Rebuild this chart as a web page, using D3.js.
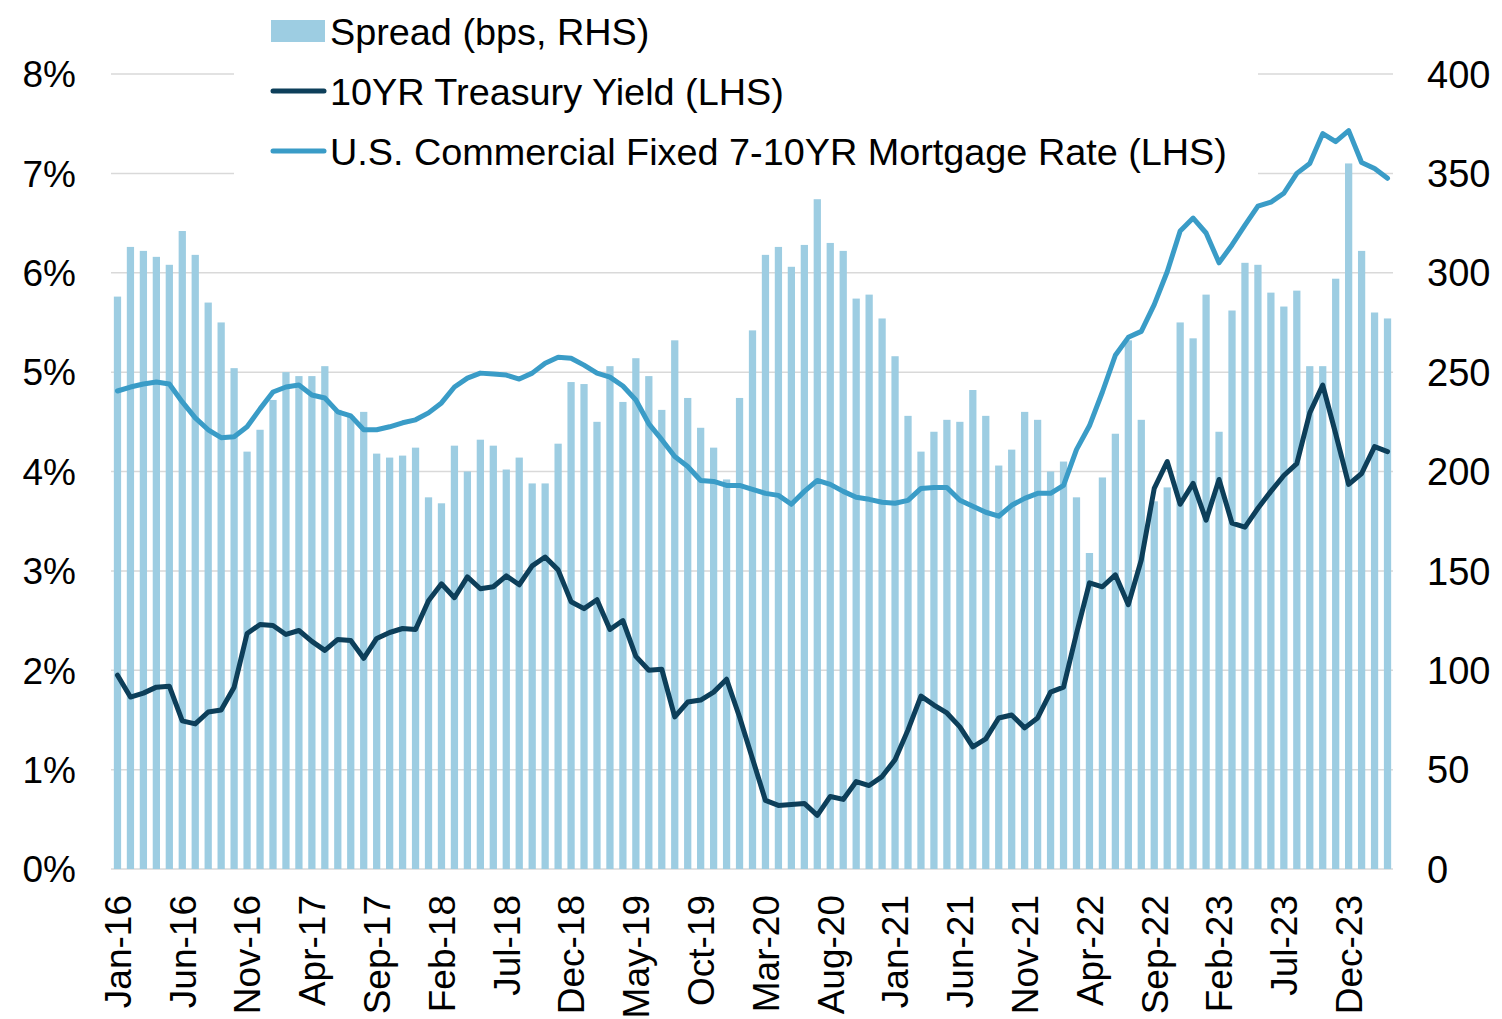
<!DOCTYPE html>
<html>
<head>
<meta charset="utf-8">
<script src="https://cdn.jsdelivr.net/npm/d3@7"></script>
<style>
  html, body { margin: 0; padding: 0; background: #fff; }
  svg { display: block; font-family: "Liberation Sans", Arial, sans-serif; }
</style>
</head>
<body>
<svg id="chart" width="1502" height="1019"></svg>
<script>
const months = [
  "Jan-16","Feb-16","Mar-16","Apr-16","May-16","Jun-16","Jul-16","Aug-16","Sep-16","Oct-16","Nov-16","Dec-16",
  "Jan-17","Feb-17","Mar-17","Apr-17","May-17","Jun-17","Jul-17","Aug-17","Sep-17","Oct-17","Nov-17","Dec-17",
  "Jan-18","Feb-18","Mar-18","Apr-18","May-18","Jun-18","Jul-18","Aug-18","Sep-18","Oct-18","Nov-18","Dec-18",
  "Jan-19","Feb-19","Mar-19","Apr-19","May-19","Jun-19","Jul-19","Aug-19","Sep-19","Oct-19","Nov-19","Dec-19",
  "Jan-20","Feb-20","Mar-20","Apr-20","May-20","Jun-20","Jul-20","Aug-20","Sep-20","Oct-20","Nov-20","Dec-20",
  "Jan-21","Feb-21","Mar-21","Apr-21","May-21","Jun-21","Jul-21","Aug-21","Sep-21","Oct-21","Nov-21","Dec-21",
  "Jan-22","Feb-22","Mar-22","Apr-22","May-22","Jun-22","Jul-22","Aug-22","Sep-22","Oct-22","Nov-22","Dec-22",
  "Jan-23","Feb-23","Mar-23","Apr-23","May-23","Jun-23","Jul-23","Aug-23","Sep-23","Oct-23","Nov-23","Dec-23",
  "Jan-24","Feb-24","Mar-24"
];

const xTickLabels = ["Jan-16","Jun-16","Nov-16","Apr-17","Sep-17","Feb-18","Jul-18","Dec-18","May-19","Oct-19",
  "Mar-20","Aug-20","Jan-21","Jun-21","Nov-21","Apr-22","Sep-22","Feb-23","Jul-23","Dec-23"];

const leftTicks = [0,1,2,3,4,5,6,7,8];
const rightTicks = [0,50,100,150,200,250,300,350,400];

// Spread (bps, RHS)
const spread = [
  288,313,311,308,304,321,309,285,275,252,210,221,
  236,250,248,248,253,231,228,230,209,207,208,212,
  187,184,213,200,216,213,201,207,194,194,214,245,
  244,225,253,235,257,248,231,266,237,222,212,196,
  237,271,309,313,303,314,337,315,311,287,289,277,
  258,228,210,220,226,225,241,228,203,211,230,226,
  200,205,187,159,197,219,266,226,185,192,275,267,
  289,220,281,305,304,290,283,291,253,253,297,355,
  311,280,277
];

// 10YR Treasury Yield (%, LHS)
const treasury = [
  1.95,1.73,1.77,1.83,1.84,1.49,1.46,1.58,1.60,1.83,2.37,2.46,
  2.45,2.36,2.40,2.29,2.20,2.31,2.30,2.12,2.32,2.38,2.42,2.41,
  2.70,2.87,2.73,2.94,2.82,2.84,2.95,2.86,3.05,3.14,3.01,2.69,
  2.62,2.71,2.41,2.50,2.14,2.00,2.01,1.53,1.68,1.70,1.78,1.91,
  1.53,1.11,0.69,0.64,0.65,0.66,0.54,0.73,0.70,0.88,0.84,0.93,
  1.10,1.40,1.74,1.65,1.57,1.43,1.23,1.31,1.52,1.55,1.42,1.52,
  1.78,1.83,2.37,2.88,2.84,2.96,2.66,3.11,3.83,4.10,3.67,3.88,
  3.51,3.92,3.48,3.44,3.63,3.80,3.96,4.08,4.59,4.87,4.38,3.87,
  3.98,4.25,4.20
];

// U.S. Commercial Fixed 7-10YR Mortgage Rate (%, LHS)
const mortgage = [
  4.81,4.85,4.88,4.90,4.88,4.70,4.54,4.42,4.34,4.35,4.45,4.63,
  4.80,4.85,4.87,4.77,4.74,4.60,4.56,4.42,4.42,4.45,4.49,4.52,
  4.59,4.69,4.85,4.94,4.99,4.98,4.97,4.93,4.99,5.09,5.15,5.14,
  5.07,4.99,4.95,4.86,4.72,4.48,4.32,4.15,4.05,3.91,3.90,3.86,
  3.86,3.82,3.78,3.76,3.67,3.80,3.91,3.87,3.80,3.74,3.72,3.69,
  3.68,3.71,3.83,3.84,3.84,3.71,3.65,3.59,3.55,3.66,3.73,3.78,
  3.78,3.86,4.22,4.46,4.80,5.17,5.35,5.41,5.68,6.01,6.42,6.55,
  6.40,6.10,6.28,6.48,6.67,6.71,6.80,7.00,7.10,7.40,7.32,7.43,
  7.11,7.05,6.95
];

const legendLabels = ["Spread (bps, RHS)", "10YR Treasury Yield (LHS)", "U.S. Commercial Fixed 7-10YR Mortgage Rate (LHS)"];

// ---- drawing ----
const COL_BAR = "#9dcde2";
const COL_TSY = "#0d3f5a";
const COL_MTG = "#3a9cc7";
const COL_GRID = "#d9d9d9";
const FONT = 37;
const LEGEND_FONT = 37.8;

const svg = d3.select("#chart");

const x = d3.scaleBand().domain(months).range([111, 1394]).paddingInner(0.44).paddingOuter(0.22);
const yL = d3.scaleLinear().domain([0, 8]).range([869, 74]);
const yR = d3.scaleLinear().domain([0, 400]).range([869, 74]);
const cx = i => x(months[i]) + x.bandwidth() / 2;

// gridlines
svg.append("g").selectAll("line").data(leftTicks).join("line")
  .attr("x1", 111).attr("x2", 1393)
  .attr("y1", d => yL(d)).attr("y2", d => yL(d))
  .attr("stroke", COL_GRID).attr("stroke-width", 1.5);

// bars
svg.append("g").selectAll("rect").data(spread).join("rect")
  .attr("x", (d, i) => x(months[i]))
  .attr("width", x.bandwidth())
  .attr("y", d => yR(d))
  .attr("height", d => yR(0) - yR(d))
  .attr("fill", COL_BAR);

// lines
const line = d3.line().x((d, i) => cx(i)).y(d => yL(d)).curve(d3.curveLinear);
svg.append("path").datum(treasury).attr("d", line)
  .attr("fill", "none").attr("stroke", COL_TSY).attr("stroke-width", 5)
  .attr("stroke-linejoin", "round").attr("stroke-linecap", "round");
svg.append("path").datum(mortgage).attr("d", line)
  .attr("fill", "none").attr("stroke", COL_MTG).attr("stroke-width", 5)
  .attr("stroke-linejoin", "round").attr("stroke-linecap", "round");

// left axis labels
svg.append("g").selectAll("text").data(leftTicks).join("text")
  .attr("x", 76).attr("y", d => yL(d)).attr("dy", "0.36em")
  .attr("text-anchor", "end").attr("font-size", FONT).attr("fill", "#000")
  .text(d => d + "%");

// right axis labels
svg.append("g").selectAll("text").data(rightTicks).join("text")
  .attr("x", 1427).attr("y", d => yR(d)).attr("dy", "0.36em")
  .attr("text-anchor", "start").attr("font-size", FONT + 1).attr("fill", "#000")
  .text(d => d);

// x axis labels
svg.append("g").selectAll("text").data(xTickLabels).join("text")
  .attr("transform", d => `translate(${x(d) + x.bandwidth() / 2},895) rotate(-90)`)
  .attr("dy", "0.36em")
  .attr("text-anchor", "end").attr("font-size", FONT).attr("fill", "#000")
  .text(d => d);

// legend
const lg = svg.append("g");
lg.append("rect").attr("x", 234).attr("y", 0).attr("width", 1024).attr("height", 186).attr("fill", "#fff");
const rows = [
  {type: "bar", color: COL_BAR, y: 31},
  {type: "line", color: COL_TSY, y: 91},
  {type: "line", color: COL_MTG, y: 151}
];
rows.forEach((r, i) => {
  if (r.type === "bar") {
    lg.append("rect").attr("x", 271).attr("y", r.y - 11).attr("width", 54).attr("height", 22).attr("fill", r.color);
  } else {
    lg.append("line").attr("x1", 273).attr("x2", 324).attr("y1", r.y).attr("y2", r.y)
      .attr("stroke", r.color).attr("stroke-width", 5).attr("stroke-linecap", "round");
  }
  lg.append("text").attr("x", 330).attr("y", r.y).attr("dy", "0.36em")
    .attr("font-size", LEGEND_FONT).attr("fill", "#000").text(legendLabels[i]);
});
</script>
</body>
</html>
